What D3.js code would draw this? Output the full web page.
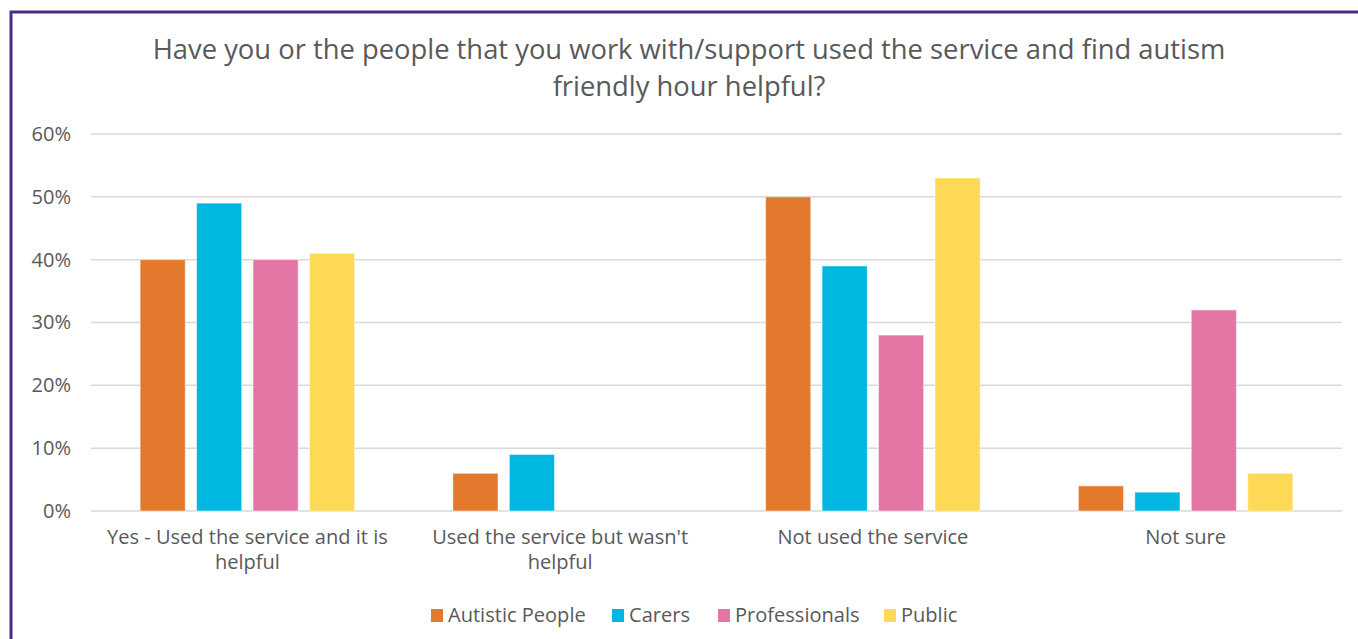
<!DOCTYPE html>
<html><head><meta charset="utf-8">
<script src="https://cdn.jsdelivr.net/npm/d3@7"></script>
<style>body{margin:0;background:#fff;} svg{display:block;}</style>
</head><body>
<script>
const categories = ["Yes - Used the service and it is helpful", "Used the service but wasn't helpful", "Not used the service", "Not sure"];
const seriesNames = ["Autistic People", "Carers", "Professionals", "Public"];
const autistic = [40, 6, 50, 4];
const carers = [49, 9, 39, 3];
const professionals = [40, 0, 28, 32];
const publicVals = [41, 0, 53, 6];
const yTicks = [0, 10, 20, 30, 40, 50, 60];
const titleLines = ["Have you or the people that you work with/support used the service and find autism", "friendly hour helpful?"];
const colors = ["#E2792D", "#00B7E1", "#E476A6", "#FDD955"];

const seriesValues = [autistic, carers, professionals, publicVals];
const W = 1358, H = 639;
const font = "'Open Sans', Lato, sans-serif";
const textColor = "#595959";

const svg = d3.select("body").append("svg").attr("width", W).attr("height", H);
svg.append("rect").attr("width", W).attr("height", H).attr("fill", "#fff");

// size fitting helper: font size so that a sample string spans a target width
function fitSize(sample, target) {
  const t = svg.append("text").attr("font-family", font).attr("font-size", 100).text(sample);
  const w = t.node().getComputedTextLength();
  t.remove();
  return 100 * target / w;
}
const titleSize = fitSize(titleLines[0], 1073);
const labelSize = fitSize("Used the service but wasn't", 256);

// border
svg.append("path").attr("d", `M11,${H+5} L11,12 L${W+5},12`)
  .attr("fill", "none").attr("stroke", "#4B2C85").attr("stroke-width", 3);

const m = {left: 91, right: 1342, top: 134, bottom: 511};
const x0 = d3.scaleBand().domain(categories).range([m.left, m.right]).paddingInner(0).paddingOuter(0);
const x1 = d3.scaleBand().domain(seriesNames).range([0, x0.bandwidth()]).paddingInner(0.2).paddingOuter(0.87);
const y = d3.scaleLinear().domain([0, 60]).range([m.bottom, m.top]);

// gridlines
svg.append("g").selectAll("line").data(yTicks).join("line")
  .attr("x1", m.left).attr("x2", m.right)
  .attr("y1", d => y(d)).attr("y2", d => y(d))
  .attr("stroke", "#D9D9D9").attr("stroke-width", 1.5);

// y axis labels
const yAxis = d3.axisLeft(y).tickValues(yTicks).tickFormat(d => d + "%").tickSize(0).tickPadding(0);
const yg = svg.append("g").attr("transform", `translate(71,0)`).call(yAxis);
yg.select(".domain").remove();
yg.selectAll("text").attr("font-family", font).attr("font-size", labelSize).attr("fill", textColor);

// bars
const data = [];
categories.forEach((c, i) => seriesNames.forEach((s, j) => data.push({c, s, v: seriesValues[j][i], j})));
svg.append("g").selectAll("rect").data(data.filter(d => d.v > 0)).join("rect")
  .attr("x", d => x0(d.c) + x1(d.s))
  .attr("width", x1.bandwidth())
  .attr("y", d => y(d.v))
  .attr("height", d => y(0) - y(d.v))
  .attr("fill", d => colors[d.j])
  .attr("stroke", "#fff").attr("stroke-opacity", 0.5).attr("stroke-width", 1);

// x axis labels
const xAxis = d3.axisBottom(x0).tickSize(0).tickPadding(0);
const xg = svg.append("g").attr("transform", `translate(0,${m.bottom})`).call(xAxis);
xg.select(".domain").remove();
xg.selectAll("text").each(function(d) {
  const t = d3.select(this);
  t.text(null).attr("font-family", font).attr("font-size", labelSize).attr("fill", textColor).attr("y", 0).attr("dy", 0);
  const words = d.split(" ");
  let lines = [], line = [];
  const tmp = t.append("tspan");
  words.forEach(w => {
    line.push(w);
    tmp.text(line.join(" "));
    if (tmp.node().getComputedTextLength() > 305 && line.length > 1) {
      line.pop(); lines.push(line.join(" ")); line = [w];
    }
  });
  lines.push(line.join(" "));
  tmp.remove();
  lines.forEach((l, k) => t.append("tspan").attr("x", 0).attr("y", 33 + k * 25).text(l));
});

// title
svg.append("g").selectAll("text").data(titleLines).join("text")
  .attr("x", 689).attr("y", (d, i) => 59 + i * 37)
  .attr("text-anchor", "middle")
  .attr("font-family", font).attr("font-size", titleSize).attr("fill", textColor)
  .text(d => d);

// legend
const legendX = [431, 612, 718, 884];
const lg = svg.append("g").selectAll("g").data(seriesNames).join("g")
  .attr("transform", (d, i) => `translate(${legendX[i]},615)`);
lg.append("rect").attr("x", 0).attr("y", -6).attr("width", 12).attr("height", 13).attr("fill", (d, i) => colors[i]);
lg.append("text").attr("x", 17).attr("y", 6.5).attr("font-family", font).attr("font-size", labelSize).attr("fill", textColor).text(d => d);
</script>
</body></html>
